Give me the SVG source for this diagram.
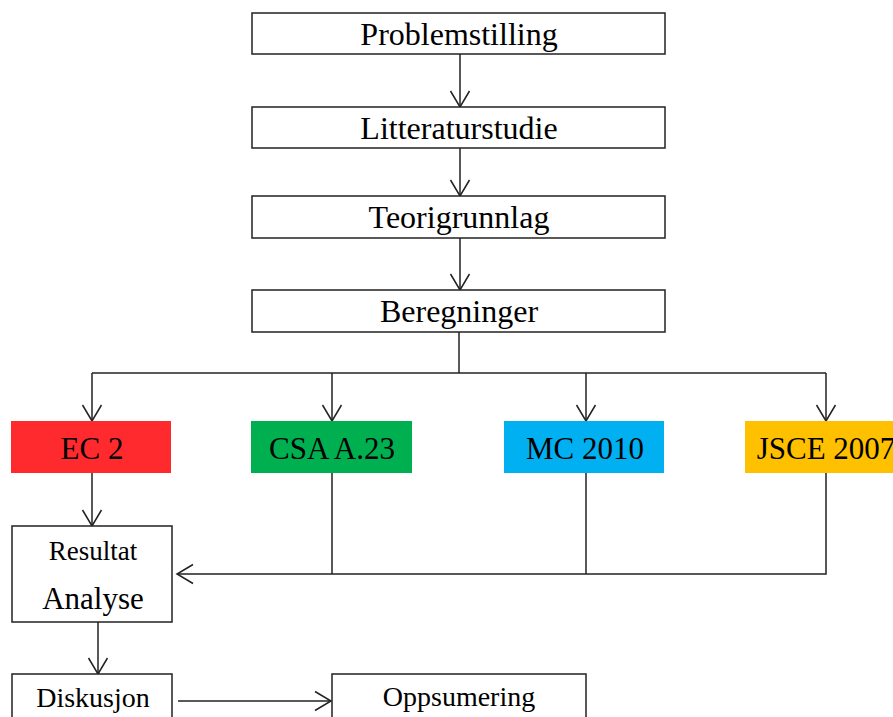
<svg xmlns="http://www.w3.org/2000/svg" width="893" height="717" viewBox="0 0 893 717">
<style>
.box{fill:#fff;stroke:#222;stroke-width:1.5}
.t{font-family:"Liberation Serif","Times New Roman",serif;fill:#000;text-anchor:middle}
.c{fill:none;stroke:#222;stroke-width:1.5}
</style>
<defs>
<marker id="ah" viewBox="0 0 24 24" refX="17" refY="12" markerWidth="24" markerHeight="24" markerUnits="userSpaceOnUse" orient="auto">
<path d="M1,2.5 L17,12 L1,21.5" fill="none" stroke="#222" stroke-width="1.5"/>
</marker>
</defs>
<rect width="893" height="717" fill="#fff"/>
<g id="connectors">
<path class="c" d="M460,54 V107" marker-end="url(#ah)"/>
<path class="c" d="M460,148 V196" marker-end="url(#ah)"/>
<path class="c" d="M460,238 V290" marker-end="url(#ah)"/>
<path class="c" d="M459,332 V373"/>
<path class="c" d="M92,373 H826"/>
<path class="c" d="M92,373 V421" marker-end="url(#ah)"/>
<path class="c" d="M332,373 V421" marker-end="url(#ah)"/>
<path class="c" d="M586,373 V421" marker-end="url(#ah)"/>
<path class="c" d="M826,373 V421" marker-end="url(#ah)"/>
<path class="c" d="M92,473 V526" marker-end="url(#ah)"/>
<path class="c" d="M332,473 V574"/>
<path class="c" d="M586,473 V574"/>
<path class="c" d="M826,473 V574 H177" marker-end="url(#ah)"/>
<path class="c" d="M98,622 V674" marker-end="url(#ah)"/>
<path class="c" d="M178,701 H331" marker-end="url(#ah)"/>
</g>
<g id="problemstilling"><rect class="box" x="252" y="13" width="413" height="41"/><text class="t" x="459" y="45" font-size="32">Problemstilling</text></g>
<g id="litteraturstudie"><rect class="box" x="252" y="107" width="413" height="41"/><text class="t" x="459" y="139" font-size="32">Litteraturstudie</text></g>
<g id="teorigrunnlag"><rect class="box" x="252" y="196" width="413" height="42"/><text class="t" x="459" y="228" font-size="32">Teorigrunnlag</text></g>
<g id="beregninger"><rect class="box" x="252" y="290" width="413" height="42"/><text class="t" x="459" y="322" font-size="32">Beregninger</text></g>
<g id="ec2"><rect x="11" y="421" width="160" height="52" fill="#ff2a2e"/><text class="t" x="92" y="459" font-size="31">EC 2</text></g>
<g id="csa"><rect x="251" y="421" width="161" height="52" fill="#00b050"/><text class="t" x="332" y="459" font-size="31">CSA A.23</text></g>
<g id="mc2010"><rect x="504" y="421" width="160" height="52" fill="#00b0f0"/><text class="t" x="585" y="459" font-size="31">MC 2010</text></g>
<g id="jsce"><rect x="745" y="421" width="160" height="52" fill="#ffc000"/><text class="t" x="826" y="459" font-size="31">JSCE 2007</text></g>
<g id="resultat"><rect class="box" x="12" y="526" width="160" height="96"/><text class="t" x="93" y="560" font-size="27">Resultat</text><text class="t" x="93" y="609" font-size="31">Analyse</text></g>
<g id="diskusjon"><rect class="box" x="12" y="674" width="160" height="60"/><text class="t" x="93" y="707" font-size="28">Diskusjon</text></g>
<g id="oppsumering"><rect class="box" x="332" y="674" width="254" height="60"/><text class="t" x="459" y="706" font-size="28">Oppsumering</text></g>
</svg>
